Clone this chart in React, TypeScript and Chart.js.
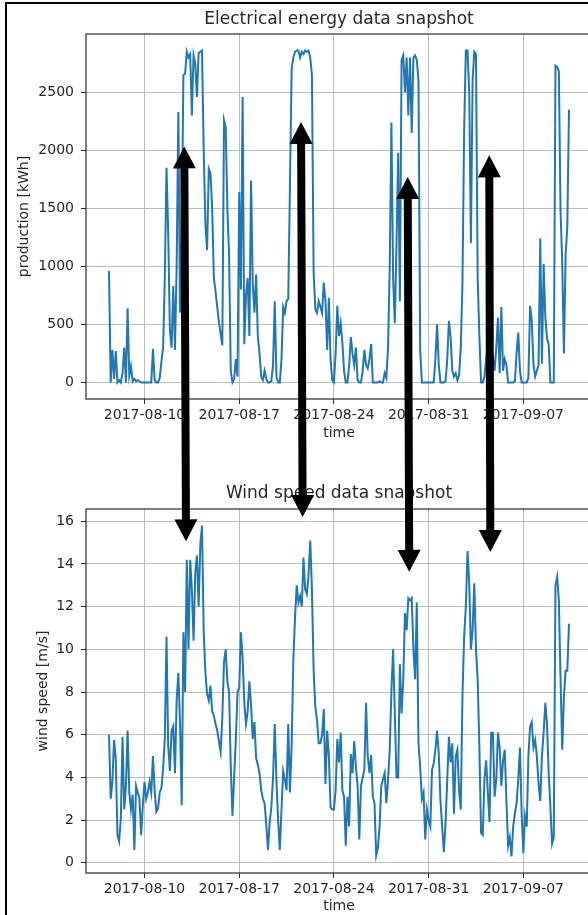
import React, { useEffect, useRef } from 'react';
import { Chart, registerables } from 'chart.js';

Chart.register(...registerables);

// ---- data (3-hourly samples starting 2017-08-07 09:00) ----
const startTime = '2017-08-07T09:00:00Z';
const stepHours = 3;

const production = [
  960, 0, 280, 30, 270, // Aug 7 (09h-21h)
  0, 20, 0, 80, 300, 0, 640, 60, // Aug 8
  140, 10, 30, 10, 20, 10, 0, 0, // Aug 9
  0, 0, 0, 0, 0, 290, 20, 0, // Aug 10
  0, 40, 180, 300, 900, 1850, 1300, 450, // Aug 11
  300, 830, 280, 1000, 2330, 600, 1300, 2650, // Aug 12
  2660, 2850, 2800, 2830, 2300, 2820, 2750, 2460, // Aug 13
  2840, 2850, 2860, 2000, 1370, 1140, 1840, 1800, // Aug 14
  1500, 900, 780, 650, 520, 420, 320, 2260, // Aug 15
  2200, 1500, 1100, 100, 0, 30, 200, 50, // Aug 16
  1640, 800, 2460, 330, 750, 900, 400, 1740, // Aug 17
  850, 600, 930, 400, 250, 50, 20, 100, // Aug 18
  30, 0, 0, 10, 150, 700, 50, 0, // Aug 19
  0, 200, 650, 600, 700, 720, 1700, 2700, // Aug 20
  2800, 2850, 2860, 2860, 2800, 2850, 2830, 2860, // Aug 21
  2850, 2860, 2800, 2650, 950, 630, 600, 700, // Aug 22
  650, 600, 860, 700, 280, 730, 200, 20, // Aug 23
  0, 250, 660, 400, 510, 340, 100, 0, // Aug 24
  0, 150, 390, 250, 150, 300, 20, 0, // Aug 25
  0, 100, 280, 150, 120, 200, 330, 0, // Aug 26
  0, 0, 0, 10, 0, 0, 80, 40, // Aug 27
  300, 1000, 2240, 900, 510, 1200, 1980, 700, // Aug 28
  2780, 2820, 2500, 2800, 2300, 2800, 2150, 2800, // Aug 29
  2820, 2780, 2600, 280, 0, 0, 0, 0, // Aug 30
  0, 0, 0, 0, 200, 500, 150, 0, // Aug 31
  0, 0, 10, 200, 530, 390, 100, 50, // Sep 1
  80, 20, 60, 300, 850, 2170, 2860, 2860, // Sep 2
  2500, 1200, 2600, 2850, 2830, 900, 400, 0, // Sep 3
  0, 50, 200, 350, 0, 200, 220, 100, // Sep 4
  300, 560, 80, 650, 100, 200, 150, 0, // Sep 5
  0, 0, 0, 10, 250, 430, 100, 0, // Sep 6
  0, 0, 0, 40, 660, 530, 150, 50, // Sep 7
  100, 150, 1240, 160, 1020, 560, 380, 330, // Sep 8
  0, 0, 0, 2730, 2720, 2680, 1480, 1020, // Sep 9
  250, 1100, 1340, 2350, // Sep 10 (00h-09h)
];

const windSpeed = [
  6.0, 3.0, 3.8, 5.75, 4.9, // Aug 7
  1.3, 1.0, 2.1, 5.9, 2.5, 3.6, 6.2, 3.3, // Aug 8
  2.5, 3.2, 0.6, 3.6, 3.3, 3.0, 1.3, 2.7, // Aug 9
  3.8, 3.0, 3.3, 3.8, 3.3, 5.0, 3.4, 2.4, // Aug 10
  2.55, 3.3, 3.5, 4.4, 5.8, 10.6, 5.5, 4.3, // Aug 11
  6.2, 6.4, 4.2, 7.6, 8.9, 6.5, 2.7, 10.8, // Aug 12
  8.0, 14.2, 10.0, 14.2, 12.8, 10.4, 13.6, 14.4, // Aug 13
  12.0, 14.9, 15.8, 10.8, 8.9, 7.9, 7.6, 8.3, // Aug 14
  7.1, 6.9, 6.5, 6.2, 5.7, 5.2, 6.8, 9.4, // Aug 15
  10.0, 8.5, 8.0, 4.5, 2.2, 4.0, 5.8, 8.0, // Aug 16
  8.2, 10.8, 9.6, 7.5, 6.5, 7.1, 8.5, 7.4, // Aug 17
  5.8, 6.6, 4.9, 4.6, 4.2, 3.4, 3.0, 2.8, // Aug 18
  1.8, 0.6, 1.9, 2.6, 4.0, 6.5, 3.9, 2.0, // Aug 19
  0.6, 2.5, 4.3, 3.9, 3.4, 6.5, 3.3, 5.5, // Aug 20
  9.5, 11.5, 13.0, 12.2, 12.5, 12.0, 14.3, 12.8, // Aug 21
  12.6, 13.5, 15.1, 12.8, 9.0, 7.3, 6.7, 5.6, // Aug 22
  5.6, 6.0, 7.2, 3.7, 6.2, 5.0, 2.6, 2.5, // Aug 23
  2.5, 3.4, 5.8, 4.7, 6.1, 3.4, 3.1, 0.8, // Aug 24
  3.1, 1.7, 5.1, 4.2, 5.7, 4.5, 3.6, 1.1, // Aug 25
  3.6, 4.0, 4.35, 7.5, 5.0, 4.2, 5.05, 3.1, // Aug 26
  2.8, 0.35, 0.7, 1.7, 3.6, 3.9, 4.2, 2.8, // Aug 27
  3.9, 5.3, 8.1, 10.0, 7.0, 4.0, 4.0, 9.3, // Aug 28
  7.0, 8.6, 11.7, 10.9, 12.4, 12.3, 12.4, 10.0, // Aug 29
  8.6, 12.2, 5.6, 4.5, 3.0, 3.3, 1.1, 2.5, // Aug 30
  2.0, 1.7, 4.35, 4.65, 5.3, 6.2, 5.1, 2.9, // Aug 31
  1.7, 0.5, 1.85, 3.9, 5.9, 4.7, 5.6, 2.3, // Sep 1
  5.0, 5.3, 3.4, 2.5, 7.8, 10.6, 12.0, 14.6, // Sep 2
  13.1, 10.0, 10.9, 13.1, 10.0, 8.6, 5.4, 1.4, // Sep 3
  1.3, 3.9, 4.8, 3.3, 1.9, 6.1, 6.1, 3.1, // Sep 4
  3.9, 6.1, 5.4, 3.6, 4.8, 5.3, 2.9, 0.8, // Sep 5
  1.2, 0.3, 1.7, 2.3, 2.8, 3.9, 5.4, 2.3, // Sep 6
  0.45, 2.2, 1.7, 5.0, 6.4, 6.6, 5.4, 5.75, // Sep 7
  5.0, 3.7, 2.9, 5.0, 6.1, 7.5, 6.5, 4.2, // Sep 8
  2.6, 0.9, 1.2, 13.0, 13.4, 12.3, 8.6, 5.3, // Sep 9
  7.8, 9.0, 9.0, 11.2, // Sep 10
];

const xTickLabels = ['2017-08-10', '2017-08-17', '2017-08-24', '2017-08-31', '2017-09-07'];
const productionTicks = [0, 500, 1000, 1500, 2000, 2500];
const windTicks = [0, 2, 4, 6, 8, 10, 12, 14, 16];

// annotation arrows: tip in production chart -> tip in wind chart
const arrowTopTimes = ['2017-08-12T22:30:00Z', '2017-08-21T13:40:00Z', '2017-08-29T10:50:00Z', '2017-09-04T11:30:00Z'];
const arrowTopKWh = [2034, 2244, 1770, 1957];
const arrowBottomTimes = ['2017-08-13T01:40:00Z', '2017-08-21T16:30:00Z', '2017-08-29T13:40:00Z', '2017-09-04T13:30:00Z'];
const arrowBottomSpeed = [15.06, 16.2, 13.63, 14.56];

// ---- helpers ----
const FONT = 'DejaVu Sans';
const TEXT = '#262626';
const t0 = Date.parse(startTime);
const stepMs = stepHours * 3600 * 1000;
const toPoints = (vals: number[]) => vals.map((v, i) => ({ x: t0 + i * stepMs, y: v }));
const padded = (vals: number[]) => {
  const mn = Math.min(...vals), mx = Math.max(...vals);
  const m = (mx - mn) * 0.05;
  return [mn - m, mx + m];
};
const xTickValues = xTickLabels.map((s) => Date.parse(s + 'T00:00:00Z'));
const fmtDate = (v: number) => new Date(v).toISOString().slice(0, 10);

const xFirst = t0;
const xLast = t0 + (production.length - 1) * stepMs;
const xMargin = (xLast - xFirst) * 0.05;

const framePlugin = {
  id: 'frame',
  afterDatasetsDraw(chart: any) {
    const { ctx, chartArea: a } = chart;
    ctx.save();
    ctx.strokeStyle = '#2b2b2b';
    ctx.lineWidth = 1.2;
    ctx.strokeRect(a.left, a.top, a.right - a.left, a.bottom - a.top);
    ctx.restore();
  },
};

function makeConfig(o: {
  title: string; yTitle: string; values: number[]; yTicks: number[];
  titlePadTop: number; titlePadBottom: number; xHeight: number; xTitlePadBottom: number; yTitlePadTop: number;
}): any {
  const [ymin, ymax] = padded(o.values);
  const font = { family: FONT, size: 14 };
  return {
    type: 'line',
    data: {
      datasets: [{
        data: toPoints(o.values),
        borderColor: '#1f77b4',
        borderWidth: 2,
        pointRadius: 0,
        tension: 0,
        fill: false,
      }],
    },
    options: {
      responsive: false,
      animation: false,
      devicePixelRatio: 1,
      parsing: false,
      layout: { padding: { left: 0, right: 8, top: 0, bottom: 0 } },
      plugins: {
        legend: { display: false },
        tooltip: { enabled: false },
        title: {
          display: true,
          text: o.title,
          fullSize: false,
          color: TEXT,
          font: { family: FONT, size: 17, weight: 'normal' },
          padding: { top: o.titlePadTop, bottom: o.titlePadBottom },
        },
      },
      scales: {
        x: {
          type: 'linear',
          min: xFirst - xMargin,
          max: xLast + xMargin,
          afterBuildTicks: (s: any) => { s.ticks = xTickValues.map((v) => ({ value: v })); },
          afterFit: (s: any) => { s.height = o.xHeight; },
          ticks: { callback: (v: number) => fmtDate(v), font, color: TEXT, padding: 3, maxRotation: 0, autoSkip: false },
          grid: { color: '#bdbdbd', lineWidth: 1, tickColor: '#2b2b2b', tickLength: 5, drawTicks: true },
          border: { display: false },
          title: { display: true, text: 'time', font, color: TEXT, padding: { top: 0, bottom: o.xTitlePadBottom } },
        },
        y: {
          type: 'linear',
          min: ymin,
          max: ymax,
          afterBuildTicks: (s: any) => { s.ticks = o.yTicks.map((v) => ({ value: v })); },
          afterFit: (s: any) => { s.width = 86; },
          ticks: { callback: (v: number) => String(v), font, color: TEXT, padding: 7, autoSkip: false },
          grid: { color: '#bdbdbd', lineWidth: 1, tickColor: '#2b2b2b', tickLength: 5, drawTicks: true },
          border: { display: false },
          title: { display: true, text: o.yTitle, font, color: TEXT, padding: { top: o.yTitlePadTop, bottom: 0 } },
        },
      },
    },
    plugins: [framePlugin],
  };
}

const TOP_H = 457;
const BOT_H = 458;

function drawArrow(ctx: CanvasRenderingContext2D, x1: number, y1: number, x2: number, y2: number) {
  const dx = x2 - x1, dy = y2 - y1;
  const len = Math.hypot(dx, dy);
  const ux = dx / len, uy = dy / len;
  const px = -uy, py = ux;
  const hl = 22, hw = 11.5, sw = 8;
  ctx.fillStyle = '#000';
  ctx.strokeStyle = '#000';
  ctx.lineWidth = sw;
  ctx.lineCap = 'butt';
  ctx.beginPath();
  ctx.moveTo(x1 + ux * (hl - 2), y1 + uy * (hl - 2));
  ctx.lineTo(x2 - ux * (hl - 2), y2 - uy * (hl - 2));
  ctx.stroke();
  // head at start
  ctx.beginPath();
  ctx.moveTo(x1, y1);
  ctx.lineTo(x1 + ux * hl + px * hw, y1 + uy * hl + py * hw);
  ctx.lineTo(x1 + ux * hl - px * hw, y1 + uy * hl - py * hw);
  ctx.closePath();
  ctx.fill();
  // head at end
  ctx.beginPath();
  ctx.moveTo(x2, y2);
  ctx.lineTo(x2 - ux * hl + px * hw, y2 - uy * hl + py * hw);
  ctx.lineTo(x2 - ux * hl - px * hw, y2 - uy * hl - py * hw);
  ctx.closePath();
  ctx.fill();
}

export default function App() {
  const topRef = useRef<HTMLCanvasElement>(null);
  const botRef = useRef<HTMLCanvasElement>(null);
  const overlayRef = useRef<HTMLCanvasElement>(null);

  useEffect(() => {
    const top = new Chart(topRef.current as HTMLCanvasElement, makeConfig({
      title: 'Electrical energy data snapshot',
      yTitle: 'production [kWh]',
      values: production,
      yTicks: productionTicks,
      titlePadTop: 9.8,
      titlePadBottom: 3.8,
      xHeight: 58,
      xTitlePadBottom: 15.6,
      yTitlePadTop: 15.6,
    }));
    const bot = new Chart(botRef.current as HTMLCanvasElement, makeConfig({
      title: 'Wind speed data snapshot',
      yTitle: 'wind speed [m/s]',
      values: windSpeed,
      yTicks: windTicks,
      titlePadTop: 26.8,
      titlePadBottom: 4.8,
      xHeight: 42,
      xTitlePadBottom: 0,
      yTitlePadTop: 34.6,
    }));

    const oc = overlayRef.current as HTMLCanvasElement;
    const octx = oc.getContext('2d') as CanvasRenderingContext2D;
    octx.clearRect(0, 0, oc.width, oc.height);
    for (let i = 0; i < arrowTopTimes.length; i++) {
      const x1 = top.scales.x.getPixelForValue(Date.parse(arrowTopTimes[i]));
      const y1 = top.scales.y.getPixelForValue(arrowTopKWh[i]);
      const x2 = bot.scales.x.getPixelForValue(Date.parse(arrowBottomTimes[i]));
      const y2 = bot.scales.y.getPixelForValue(arrowBottomSpeed[i]) + TOP_H;
      drawArrow(octx, x1, y1, x2, y2);
    }

    return () => {
      top.destroy();
      bot.destroy();
    };
  }, []);

  return (
    <div style={{ position: 'fixed', left: 0, top: 0, width: 588, height: 915, overflow: 'hidden', background: '#fff' }}>
      <canvas ref={topRef} width={600} height={TOP_H} style={{ position: 'absolute', left: 0, top: 0 }} />
      <canvas ref={botRef} width={600} height={BOT_H} style={{ position: 'absolute', left: 0, top: TOP_H }} />
      <canvas ref={overlayRef} width={588} height={915} style={{ position: 'absolute', left: 0, top: 0, pointerEvents: 'none' }} />
      <div style={{ position: 'absolute', left: 5, top: 2, width: 620, height: 920, borderTop: '2px solid #000', borderLeft: '2px solid #000', boxSizing: 'border-box', pointerEvents: 'none' }} />
    </div>
  );
}
